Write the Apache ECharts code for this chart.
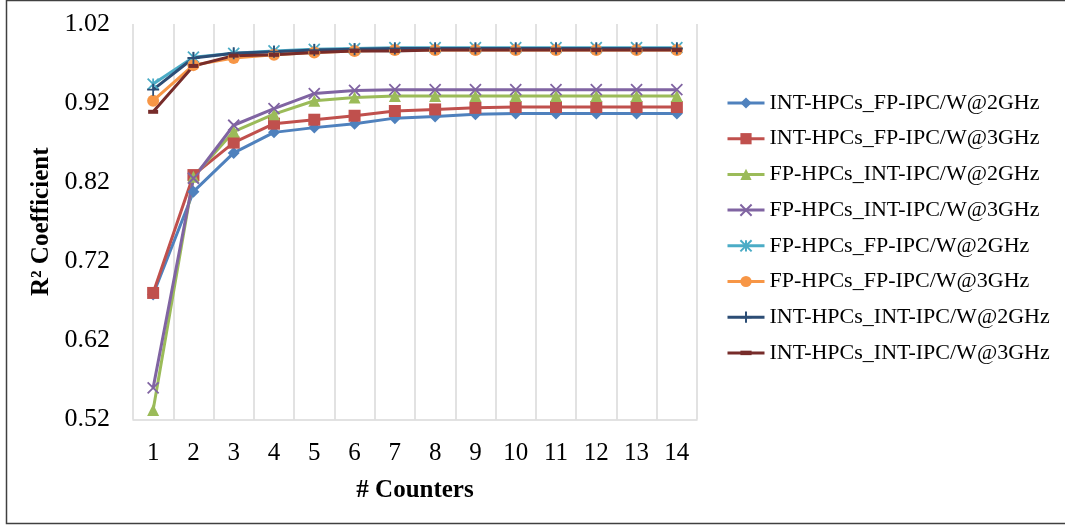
<!DOCTYPE html>
<html>
<head>
<meta charset="utf-8">
<script src="https://cdn.jsdelivr.net/npm/echarts@6/dist/echarts.min.js"></script>
<style>
html,body{margin:0;padding:0;background:#fff;}
#main{width:1065px;height:525px;}
</style>
</head>
<body>
<div id="main"></div>
<script>
var categories = ['1','2','3','4','5','6','7','8','9','10','11','12','13','14'];
var seriesNames = [
  'INT-HPCs_FP-IPC/W@2GHz',
  'INT-HPCs_FP-IPC/W@3GHz',
  'FP-HPCs_INT-IPC/W@2GHz',
  'FP-HPCs_INT-IPC/W@3GHz',
  'FP-HPCs_FP-IPC/W@2GHz',
  'FP-HPCs_FP-IPC/W@3GHz',
  'INT-HPCs_INT-IPC/W@2GHz',
  'INT-HPCs_INT-IPC/W@3GHz'
];
var intFp2 = [0.678,0.808,0.857,0.883,0.889,0.894,0.901,0.903,0.906,0.907,0.907,0.907,0.907,0.907];
var intFp3 = [0.680,0.829,0.870,0.894,0.899,0.904,0.910,0.912,0.914,0.915,0.915,0.915,0.915,0.915];
var fpInt2 = [0.532,0.827,0.884,0.906,0.923,0.927,0.929,0.929,0.929,0.929,0.929,0.929,0.929,0.929];
var fpInt3 = [0.560,0.825,0.892,0.913,0.932,0.936,0.937,0.937,0.937,0.937,0.937,0.937,0.937,0.937];
var fpFp2  = [0.944,0.978,0.983,0.986,0.988,0.989,0.990,0.990,0.990,0.990,0.990,0.990,0.990,0.990];
var fpFp3  = [0.923,0.968,0.977,0.981,0.984,0.986,0.987,0.987,0.987,0.987,0.987,0.987,0.987,0.987];
var intInt2= [0.937,0.977,0.983,0.985,0.987,0.988,0.989,0.989,0.989,0.989,0.989,0.989,0.989,0.989];
var intInt3= [0.909,0.967,0.980,0.981,0.984,0.986,0.986,0.987,0.987,0.987,0.987,0.987,0.987,0.987];
var yTicks = [0.52,0.62,0.72,0.82,0.92,1.02];

var dataList = [intFp2,intFp3,fpInt2,fpInt3,fpFp2,fpFp3,intInt2,intInt3];
var colors = ['#4F81BD','#C0504D','#9BBB59','#8064A2','#4BACC6','#F79646','#2C4D75','#772C2A'];
var symbols = [
  'diamond','rect','triangle',
  'path://M0,0L10,10M10,0L0,10',
  'path://M0,0L10,10M10,0L0,10M5,0L5,10',
  'circle',
  'path://M5,0L5,10M0,5L10,5',
  'path://M0,0M10,10M0,3L10,3L10,7L0,7Z'
];
var symbolSizes = [12,12,12,11,11,12,12,10];
var stroked = [false,false,false,true,true,false,true,false];

var serif = 'Liberation Serif, Times New Roman, serif';
var series = dataList.map(function(d,i){
  return {
    name: seriesNames[i],
    type: 'line',
    data: d,
    symbol: symbols[i],
    symbolSize: symbolSizes[i],
    showAllSymbol: true,
    lineStyle: {color: colors[i], width: 3},
    itemStyle: stroked[i] ? {color: colors[i], borderColor: colors[i], borderWidth: 1.8}
                          : {color: colors[i], borderWidth: 0},
    emphasis: {disabled: true},
    animation: false
  };
});

var chart = echarts.init(document.getElementById('main'), null, {renderer:'canvas'});
chart.setOption({
  backgroundColor: '#fff',
  animation: false,
  graphic: [{
    type: 'rect',
    shape: {x: 6.5, y: 0.5, width: 1070, height: 523},
    style: {fill: 'none', stroke: '#404040', lineWidth: 1.5},
    silent: true, z: -1
  }],
  grid: {left: 133, top: 24, right: 368, bottom: 105.5, containLabel: false},
  legend: {
    orient: 'vertical',
    left: 721, top: 87,
    itemWidth: 37, itemHeight: 14, itemGap: 13.7,
    lineStyle: {width: 3},
    textStyle: {fontFamily: serif, fontSize: 22, color: '#000'},
    data: seriesNames
  },
  xAxis: {
    type: 'category',
    data: categories,
    boundaryGap: true,
    name: '# Counters',
    nameLocation: 'middle',
    nameGap: 59,
    nameTextStyle: {fontFamily: serif, fontSize: 25, fontWeight: 'bold', color: '#000'},
    axisLine: {lineStyle: {color: '#d9d9d9', width: 1.5}},
    axisTick: {show: false},
    axisLabel: {fontFamily: serif, fontSize: 25, color: '#000', margin: 21},
    splitLine: {show: true, lineStyle: {color: '#d9d9d9', width: 1.5}}
  },
  yAxis: {
    type: 'value',
    min: yTicks[0], max: yTicks[yTicks.length-1], interval: 0.1,
    name: 'R\u00B2 Coefficient',
    nameLocation: 'middle',
    nameGap: 70,
    nameRotate: 90,
    nameTextStyle: {fontFamily: serif, fontSize: 25, fontWeight: 'bold', color: '#000'},
    axisLine: {show: false},
    axisTick: {show: false},
    axisLabel: {fontFamily: serif, fontSize: 26, color: '#000', margin: 23,
      formatter: function(v){ return v.toFixed(2); }},
    splitLine: {show: false}
  },
  series: series
});
</script>
</body>
</html>
